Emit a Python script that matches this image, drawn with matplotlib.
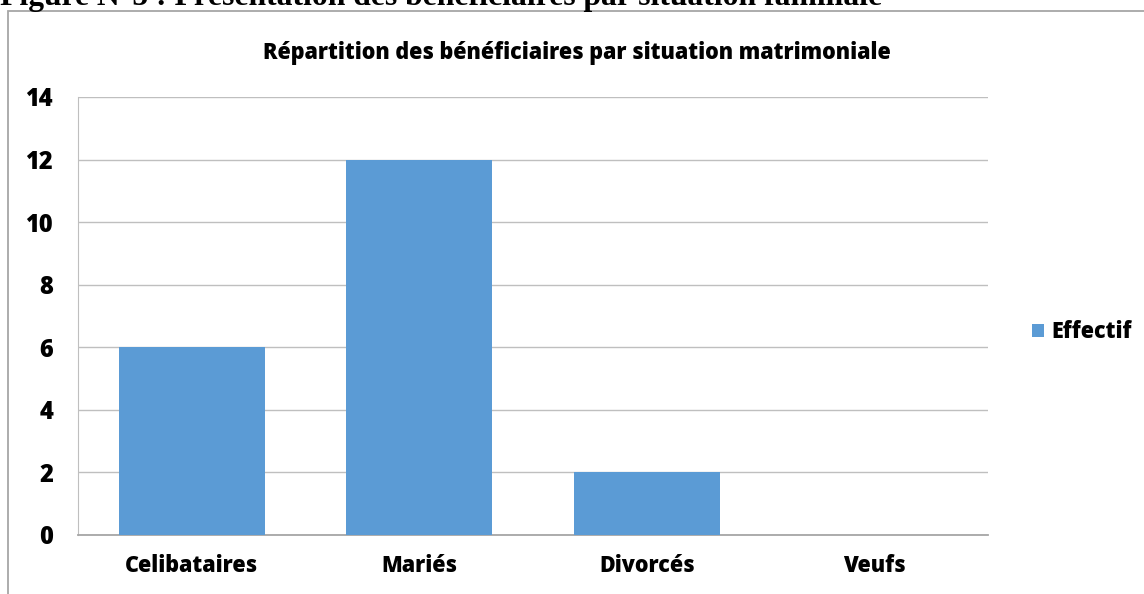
import matplotlib
matplotlib.use('Agg')
import matplotlib.pyplot as plt
from matplotlib.patches import Rectangle

categories = ['Celibataires', 'Mariés', 'Divorcés', 'Veufs']
effectif = [6, 12, 2, 0]
yticks = [0, 2, 4, 6, 8, 10, 12, 14]

bar_color = '#5B9BD5'
grid_color = '#BFBFBF'
font = ['Open Sans', 'DejaVu Sans']
weight = 'heavy'

W, H = 1144, 594
fig = plt.figure(figsize=(W / 100, H / 100), dpi=100)

# chart frame (right/bottom run off the picture)
fig.patches.append(Rectangle((8 / W, -0.05), 1.2, 1 - 11 / H + 0.05,
                             transform=fig.transFigure, fill=False,
                             edgecolor='#A6A6A6', linewidth=1.3))

# clipped caption above the chart
fig.text(0.0, 1 - 5 / H,
         'Figure N°5 : Présentation des bénéficiaires par situation familiale',
         family='Liberation Serif', weight='bold', fontsize=22.8,
         ha='left', va='baseline')

ax = fig.add_axes([78 / W, 1 - 535 / H, (988 - 78) / W, (535 - 97) / H])
x = range(len(categories))
ax.bar(x, effectif, width=0.64, color=bar_color, label='Effectif', zorder=3)
ax.set_xlim(-0.5, len(categories) - 0.5)
ax.set_ylim(0, 14)
ax.set_yticks(yticks)
ax.set_xticks(list(x))
ax.set_xticklabels(categories)
ax.yaxis.grid(True, color=grid_color, linewidth=1, zorder=0)
for s in ['top', 'right']:
    ax.spines[s].set_visible(False)
ax.spines['left'].set_color(grid_color)
ax.spines['bottom'].set_color('#A6A6A6')
ax.spines['bottom'].set_linewidth(1.3)
ax.tick_params(axis='both', length=0)
ax.tick_params(axis='y', pad=18)
ax.tick_params(axis='x', pad=14)
for lab in ax.get_xticklabels():
    lab.set_family(font)
    lab.set_fontweight(weight)
    lab.set_fontsize(15.5)
for lab in ax.get_yticklabels():
    lab.set_family(font)
    lab.set_fontweight(weight)
    lab.set_fontsize(17)

fig.text(577 / W, 1 - 53 / H,
         'Répartition des bénéficiaires par situation matrimoniale',
         family=font, weight=weight, fontsize=15.5, ha='center', va='center')

leg = fig.legend(loc='center left', bbox_to_anchor=(1013 / W, 1 - 332 / H),
                 frameon=False, handlelength=0.55, handleheight=0.55,
                 handletextpad=0.35,
                 prop={'family': font, 'weight': weight, 'size': 15.5})

fig.savefig('out.png', dpi=100)
